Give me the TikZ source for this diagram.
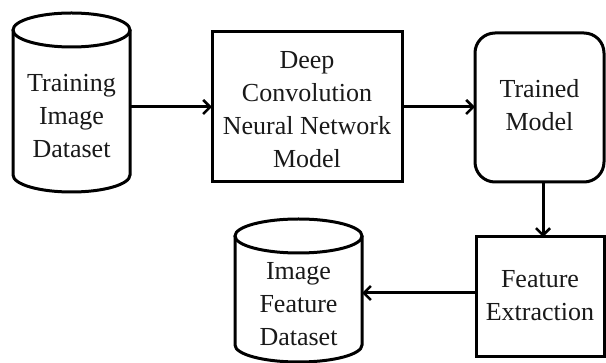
\documentclass[tikz,border=0pt]{standalone}
\usepackage{fontspec}
\setmainfont{Liberation Serif}
\usetikzlibrary{arrows.meta,positioning}
\begin{document}
\begin{tikzpicture}[x=1pt,y=-1pt,
  line width=3pt,
  lbl/.style={align=center,font=\fontsize{26}{33}\selectfont,text=black!90},
  area/.style={inner sep=0pt,outer sep=0pt},
  arr/.style={-{Straight Barb[length=7pt,width=14pt,line width=2.6pt]},line width=3pt}
]
\useasboundingbox[fill=white] (0,0) rectangle (606,363);
% cylinder 1
\draw (71.5,30) ellipse [x radius=58.5pt,y radius=17pt];
\draw (13,30) -- (13,175) arc [start angle=180,end angle=360,x radius=58.5pt,y radius=17pt] -- (130,30);
\node[area,minimum width=117pt,minimum height=179pt] (cyl1) at (71.5,102.5) {};
\node[lbl] (t1) at (71.5,116) {Training\\Image\\Dataset};
% DCNN box
\draw (212,32) rectangle (402,182);
\node[area,minimum width=190pt,minimum height=150pt] (dcnn) at (307,107) {};
\node[lbl] (t2) at (307,110) {Deep\\Convolution\\Neural Network\\Model};
% trained model
\draw[rounded corners=20pt] (475,33) rectangle (604,182);
\node[area,minimum width=129pt,minimum height=149pt] (tm) at (539.5,107.5) {};
\node[lbl] (t3) at (539.5,105) {Trained\\Model};
% feature extraction
\draw (476,237) rectangle (604,357);
\node[area,minimum width=128pt,minimum height=120pt] (fe) at (540,297) {};
\node[lbl] (t4) at (540,296) {Feature\\Extraction};
% cylinder 2
\draw (298.5,236) ellipse [x radius=63.5pt,y radius=17pt];
\draw (235,236) -- (235,345) arc [start angle=180,end angle=360,x radius=63.5pt,y radius=17pt] -- (362,236);
\node[area,minimum width=127pt,minimum height=143pt] (cyl2) at (298.5,290.5) {};
\node[lbl] (t5) at (298.5,304) {Image\\Feature\\Dataset};
% arrows
\draw[arr] (cyl1.east |- dcnn.west) -- (dcnn.west);
\draw[arr] (dcnn.east) -- (tm.west |- dcnn.east);
\draw[arr] (tm.south -| 543,0) -- (fe.north -| 543,0);
\draw[arr] (fe.west |- 0,293) -- (cyl2.east |- 0,293);
\end{tikzpicture}
\end{document}
